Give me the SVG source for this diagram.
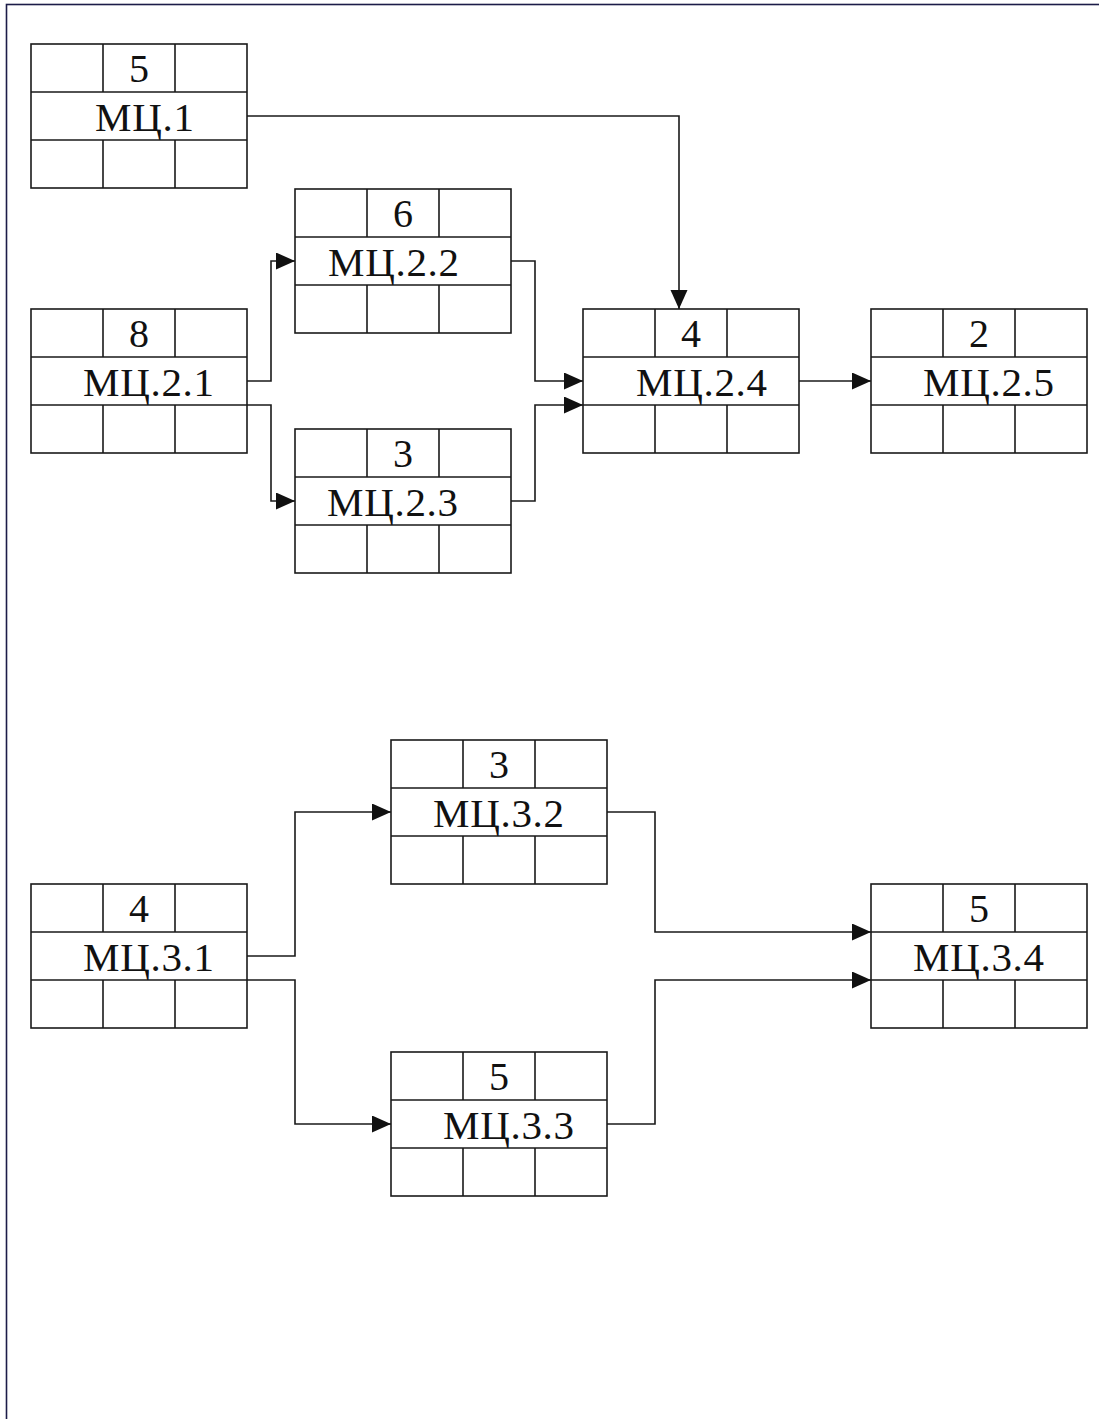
<svg xmlns="http://www.w3.org/2000/svg" width="1099" height="1419" viewBox="0 0 1099 1419">
<style>
.box{fill:#fff;stroke:#1a1a1a;stroke-width:1.6}
.ln{stroke:#1a1a1a;stroke-width:1.6;fill:none}
.num{font-family:"Liberation Serif","Times New Roman",serif;font-size:40px;fill:#111;text-anchor:middle}
.lbl{font-family:"Liberation Serif","Times New Roman",serif;font-size:41px;letter-spacing:0.7px;fill:#111}
.con{stroke:#1a1a1a;stroke-width:1.6;fill:none;marker-end:url(#arr)}
</style>
<defs>
<marker id="arr" markerUnits="userSpaceOnUse" markerWidth="20" markerHeight="18" refX="19" refY="8.5" orient="auto" viewBox="0 0 20 18">
<path d="M0,0 L19,8.5 L0,17 Z" fill="#111"/>
</marker>
<g id="cell">
<rect class="box" x="0" y="0" width="216" height="144"/>
<path class="ln" d="M0,48 H216 M0,96 H216 M72,0 V48 M144,0 V48 M72,96 V144 M144,96 V144"/>
</g>
</defs>
<rect x="0" y="0" width="1099" height="1419" fill="#fff"/>
<rect x="6.5" y="4.5" width="1200" height="1500" fill="none" stroke="#1c1c48" stroke-width="1.6"/>
<g id="connectors">
<path class="con" d="M247,116 H679 V309"/>
<path class="con" d="M247,381 H271 V261 H295"/>
<path class="con" d="M247,405 H271 V501 H295"/>
<path class="con" d="M511,261 H535 V381 H583"/>
<path class="con" d="M511,501 H535 V405 H583"/>
<path class="con" d="M799,381 H871"/>
<path class="con" d="M247,956 H295 V812 H391"/>
<path class="con" d="M247,980 H295 V1124 H391"/>
<path class="con" d="M607,812 H655 V932 H871"/>
<path class="con" d="M607,1124 H655 V980 H871"/>
</g>
<g id="n1" transform="translate(31,44)"><use href="#cell"/><text class="num" x="108" y="38">5</text><text class="lbl" x="64" y="87">МЦ.1</text></g>
<g id="n21" transform="translate(31,309)"><use href="#cell"/><text class="num" x="108" y="38">8</text><text class="lbl" x="52" y="87">МЦ.2.1</text></g>
<g id="n22" transform="translate(295,189)"><use href="#cell"/><text class="num" x="108" y="38">6</text><text class="lbl" x="33" y="87">МЦ.2.2</text></g>
<g id="n23" transform="translate(295,429)"><use href="#cell"/><text class="num" x="108" y="38">3</text><text class="lbl" x="32" y="87">МЦ.2.3</text></g>
<g id="n24" transform="translate(583,309)"><use href="#cell"/><text class="num" x="108" y="38">4</text><text class="lbl" x="53" y="87">МЦ.2.4</text></g>
<g id="n25" transform="translate(871,309)"><use href="#cell"/><text class="num" x="108" y="38">2</text><text class="lbl" x="52" y="87">МЦ.2.5</text></g>
<g id="n31" transform="translate(31,884)"><use href="#cell"/><text class="num" x="108" y="38">4</text><text class="lbl" x="52" y="87">МЦ.3.1</text></g>
<g id="n32" transform="translate(391,740)"><use href="#cell"/><text class="num" x="108" y="38">3</text><text class="lbl" x="42" y="87">МЦ.3.2</text></g>
<g id="n33" transform="translate(391,1052)"><use href="#cell"/><text class="num" x="108" y="38">5</text><text class="lbl" x="52" y="87">МЦ.3.3</text></g>
<g id="n34" transform="translate(871,884)"><use href="#cell"/><text class="num" x="108" y="38">5</text><text class="lbl" x="42" y="87">МЦ.3.4</text></g>
</svg>
